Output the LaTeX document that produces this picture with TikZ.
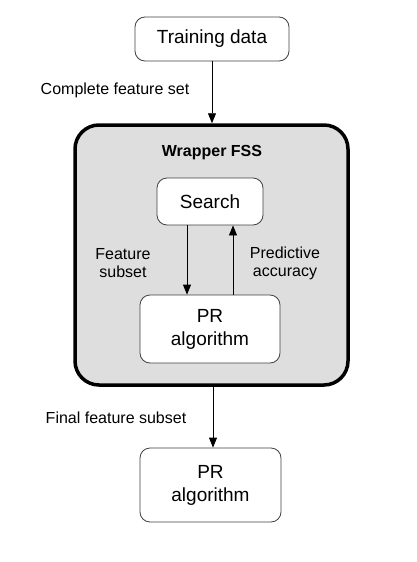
\documentclass[tikz,border=0pt]{standalone}
\usepackage{fontspec}
\setmainfont{Liberation Sans}
\usetikzlibrary{arrows.meta,calc}
\begin{document}
\begin{tikzpicture}[x=1pt,y=-1pt,
  box/.style={draw=black!75,line width=0.8pt,rounded corners=10pt,fill=white,align=center,inner sep=0pt,font=\fontsize{19}{23}\selectfont},
  lbl/.style={align=center,font=\fontsize{16}{18}\selectfont,inner sep=0pt},
  arr/.style={line width=0.8pt,-{Triangle[length=10pt,width=8pt]}}]
\useasboundingbox (0,0) rectangle (417,562);
\node[draw=black,line width=3.5pt,rounded corners=24pt,fill=black!13,minimum width=273pt,minimum height=260pt] (wrap) at (211.5,255) {};
\node[box,minimum width=154pt,minimum height=44pt] (td) at (212,39) {Training data};
\node[box,minimum width=106pt,minimum height=47pt] (search) at (210,201.5) {Search};
\node[box,minimum width=140pt,minimum height=68pt] (pr1) at (210,329) {PR\\algorithm};
\node[box,minimum width=141pt,minimum height=74pt] (pr2) at (210.5,485) {PR\\algorithm};
\node[lbl,font=\fontsize{16}{18}\selectfont\bfseries] (wt) at (212,153) {Wrapper FSS};
\node[lbl] (l1) at (115,90) {Complete feature set};
\node[lbl] (l2) at (116,418) {Final feature subset};
\node[lbl] (l3) at (123,263) {Feature\\subset};
\node[lbl] (l4) at (285,263) {Predictive\\accuracy};
\draw[arr] (td.south) -- (td.south |- wrap.north);
\draw[arr] ([xshift=-23pt]search.south) -- ([xshift=-23pt]search.south |- pr1.north);
\draw[arr] ([xshift=23pt]pr1.north) -- ([xshift=23pt]pr1.north |- search.south);
\draw[arr] ([xshift=1.5pt]wrap.south) -- ([xshift=1.5pt]wrap.south |- pr2.north);
\end{tikzpicture}
\end{document}
